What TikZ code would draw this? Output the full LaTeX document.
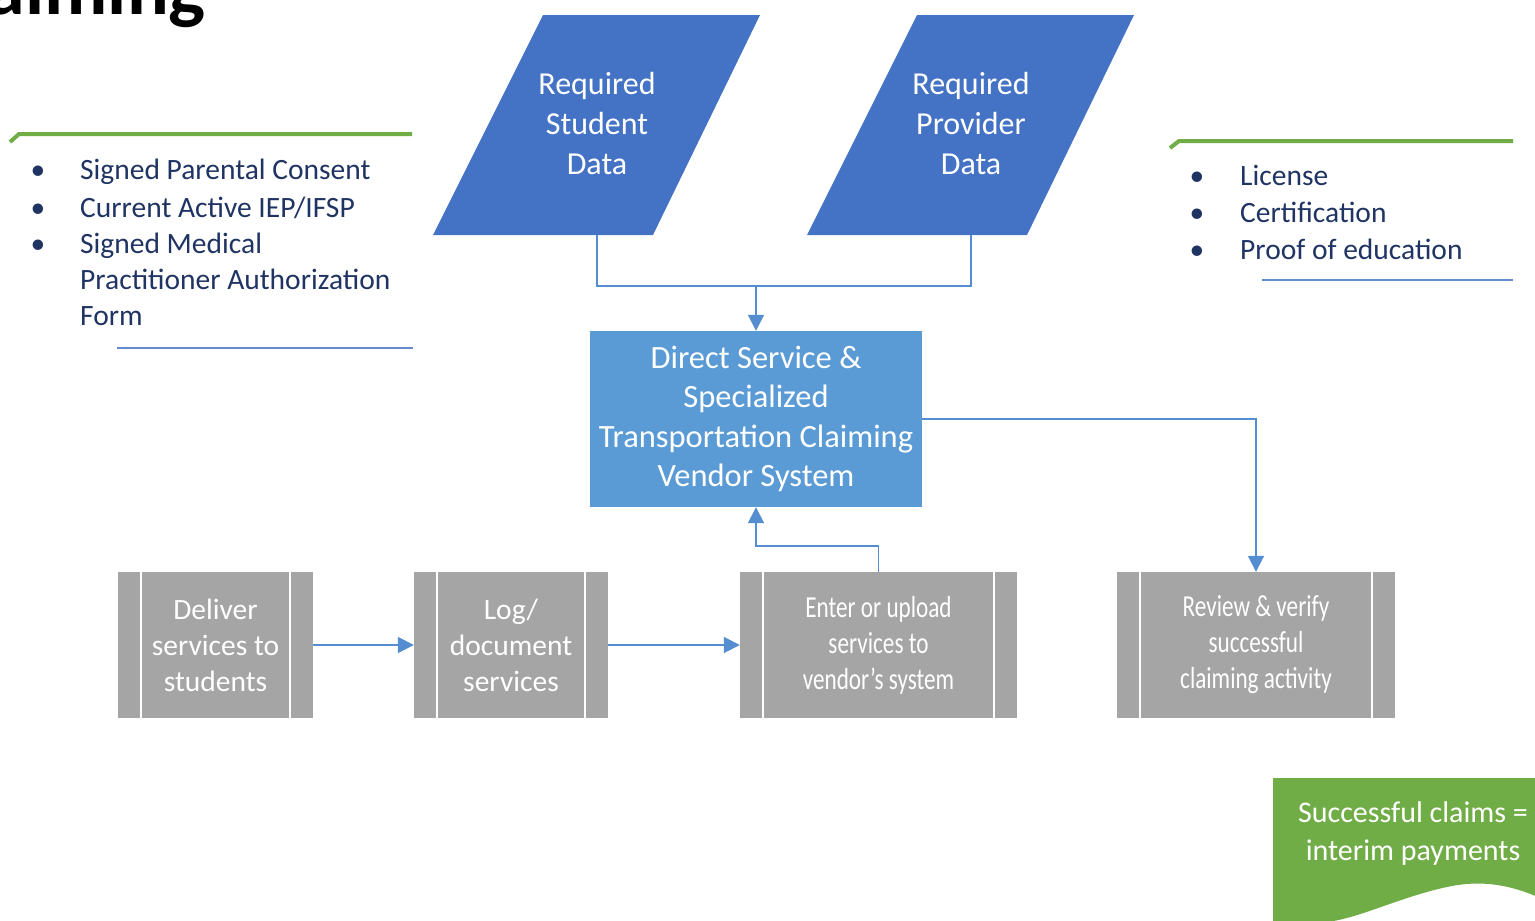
\documentclass[tikz,border=0pt]{standalone}
\usepackage{fontspec}
\setmainfont{Carlito}
\newfontfamily\condfont[FakeStretch=0.76]{Carlito}
\usetikzlibrary{arrows.meta}
\definecolor{pblue}{RGB}{68,114,196}
\definecolor{cblue}{RGB}{91,155,213}
\definecolor{boxgray}{RGB}{165,165,165}
\definecolor{gbox}{RGB}{112,173,71}
\definecolor{linec}{RGB}{84,141,208}
\definecolor{navy}{RGB}{32,52,100}
\definecolor{ulblue}{RGB}{100,140,205}
\tikzset{
  conn/.style={draw=linec, line width=1.8pt},
  tip/.style={-{Triangle[length=16pt,width=16pt]}},
  wtext/.style={text=white, align=center, inner sep=0pt},
  procbox/.style={fill=boxgray, minimum height=146pt, inner sep=0pt, text=white, align=center,
    font=\fontsize{29.5}{36}\selectfont,
    path picture={\draw[white,line width=1.5pt]
      ([xshift=23pt]path picture bounding box.north west) -- ([xshift=23pt]path picture bounding box.south west)
      ([xshift=-23pt]path picture bounding box.north east) -- ([xshift=-23pt]path picture bounding box.south east);}},
  navytext/.style={text=navy, font=\fontsize{29.5}{36}\selectfont, inner sep=0pt, align=left},
  greenrule/.style={draw=gbox, line width=4pt},
  bluerule/.style={draw=ulblue, line width=2pt},
}
\begin{document}
\begin{tikzpicture}[x=1pt,y=-1pt]
\useasboundingbox (0,0) rectangle (1535,921);
\clip (0,0) rectangle (1535,921);

% title fragment
\node[anchor=base east, inner sep=0pt, font=\fontsize{78}{86}\selectfont\bfseries] (title) at (206,14) {Claiming};

% parallelograms
\fill[pblue] (543,15) -- (760,15) -- (653,235) -- (433,235) -- cycle;
\fill[pblue] (917,15) -- (1134,15) -- (1027,235) -- (807,235) -- cycle;
\node[wtext, font=\fontsize{32}{40}\selectfont] (stud) at (597,124) {Required\\Student\\Data};
\node[wtext, font=\fontsize{32}{40}\selectfont] (prov) at (971,124) {Required\\Provider\\Data};
\coordinate (studb) at (597,235);
\coordinate (provb) at (971,235);
\coordinate (join) at (756,286);

% central box
\node[fill=cblue, minimum width=332pt, minimum height=176pt, wtext, font=\fontsize{32.5}{39.5}\selectfont] (dsys) at (756,419)
  {Direct Service \&\\Specialized\\Transportation Claiming\\Vendor System};

% process boxes
\node[procbox, minimum width=195pt] (deliv) at (215.5,645) {Deliver\\services to\\students};
\node[procbox, minimum width=194pt] (logd) at (511,645) {Log/\\document\\services};
\node[procbox, minimum width=277pt, font=\condfont\fontsize{30.5}{36}\selectfont] (enter) at (878.5,645) {Enter or upload\\services to\\vendor’s system};
\node[procbox, minimum width=278pt, font=\condfont\fontsize{30.5}{36}\selectfont] (rev) at (1256,645) {Review \& verify\\successful\\claiming activity};

% connectors
\draw[conn] (studb) |- (join) -| (provb);
\draw[conn,tip] (join) -- (dsys.north);
\draw[conn,tip] (dsys.east) -| (rev.north);
\draw[conn,tip] (deliv.east) -- (logd.west);
\draw[conn,tip] (logd.east) -- (enter.west);
\draw[conn,tip] (enter.north) -- ++(0,-26) -| (dsys.south);

% left list
\coordinate (lg1) at (10,142);
\coordinate (lg2) at (19,134);
\coordinate (lg3) at (412,134);
\draw[greenrule] (lg1) -- (lg2) -- (lg3);
\node[navytext, anchor=base] (lb1) at (38,179) {•};
\node[navytext, anchor=base] (lb2) at (38,217) {•};
\node[navytext, anchor=base] (lb3) at (38,253) {•};
\node[navytext, anchor=base west] (lt1) at (80,179) {Signed Parental Consent};
\node[navytext, anchor=base west] (lt2) at (80,217) {Current Active IEP/IFSP};
\node[navytext, anchor=base west] (lt3) at (80,325) {Signed Medical\\Practitioner Authorization\\Form};
\coordinate (lu1) at (117,348);
\coordinate (lu2) at (413,348);
\draw[bluerule] (lu1) -- (lu2);

% right list
\coordinate (rg1) at (1170,148);
\coordinate (rg2) at (1179,141);
\coordinate (rg3) at (1513,141);
\draw[greenrule] (rg1) -- (rg2) -- (rg3);
\node[navytext, anchor=base] (rb1) at (1197,185) {•};
\node[navytext, anchor=base] (rb2) at (1197,222) {•};
\node[navytext, anchor=base] (rb3) at (1197,259) {•};
\node[navytext, anchor=base west] (rt1) at (1240,185) {License};
\node[navytext, anchor=base west] (rt2) at (1240,222) {Certification};
\node[navytext, anchor=base west] (rt3) at (1240,259) {Proof of education};
\coordinate (ru1) at (1262,280);
\coordinate (ru2) at (1513,280);
\draw[bluerule] (ru1) -- (ru2);

% green document shape
\fill[gbox] (1273,778) -- (1540,778) -- (1540,898) .. controls (1500,880) and (1470,882) .. (1447,887)
  .. controls (1400,897) and (1360,918) .. (1327,922) -- (1273,925) -- cycle;
\node[wtext, font=\fontsize{30}{38}\selectfont] (succ) at (1413,833) {Successful claims =\\interim payments};
\end{tikzpicture}
\end{document}
